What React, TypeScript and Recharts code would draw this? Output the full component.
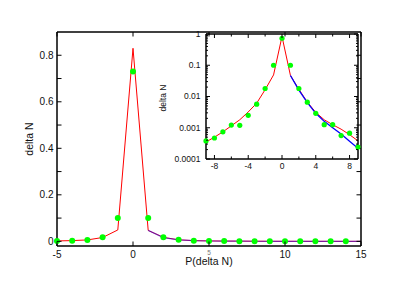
import React from 'react';
import { ComposedChart, Line, XAxis, YAxis, Label } from 'recharts';

// ---- data ----
const theoryX = [-9, -8, -7, -6, -5, -4, -3, -2, -1, 0, 1, 2, 3, 4, 5, 6, 7, 8, 9, 10, 11, 12, 13, 14, 15];
const theoryY = [0.00035, 0.0005, 0.00074, 0.00115, 0.0018, 0.0032, 0.0061, 0.0165, 0.049, 0.83, 0.047, 0.017, 0.0066, 0.0031, 0.0018, 0.00125, 0.0009, 0.0006, 0.00038, 0.0003, 0.00025, 0.0002, 0.00016, 0.00013, 0.0001];

const simX = [1, 2, 3, 4, 5, 6, 7, 8, 9, 10, 11, 12, 13, 14, 15];
const simY = [0.047, 0.016, 0.0064, 0.0029, 0.0016, 0.001, 0.00063, 0.00037, 0.00022, 0.00015, 0.0001, 0.00007, 0.00005, 0.00003, 0.00002];

const obsX = [-9, -8, -7, -6, -5, -4, -3, -2, -1, 0, 1, 2, 3, 4, 5, 6, 7, 8, 9, 10, 11, 12, 13, 14];
const obsY = [0.00038, 0.00047, 0.00074, 0.00122, 0.0012, 0.0025, 0.0057, 0.018, 0.1, 0.73, 0.1, 0.018, 0.0066, 0.0029, 0.00125, 0.00125, 0.00056, 0.00067, 0.00024, 0.0002, 0.00015, 0.0001, 0.0001, 0.0001];

const mainXTicks = [-5, 0, 5, 10, 15];
const mainYTicks = [0, 0.1, 0.2, 0.3, 0.4, 0.5, 0.6, 0.7, 0.8];
const mainYMajor = [0, 0.2, 0.4, 0.6, 0.8];
const insetXTicks = [-8, -6, -4, -2, 0, 2, 4, 6, 8];
const insetXMajor = [-8, -4, 0, 4, 8];
const insetYMajor = [0.0001, 0.001, 0.01, 0.1, 1];
const insetYMinor = [
  0.0002, 0.0003, 0.0004, 0.0005, 0.0006, 0.0007, 0.0008, 0.0009,
  0.002, 0.003, 0.004, 0.005, 0.006, 0.007, 0.008, 0.009,
  0.02, 0.03, 0.04, 0.05, 0.06, 0.07, 0.08, 0.09,
  0.2, 0.3, 0.4, 0.5, 0.6, 0.7, 0.8, 0.9,
];
const insetYTicks = [...insetYMajor, ...insetYMinor];

const toPts = (xs: number[], ys: number[]) => xs.map((x, i) => ({ x, y: ys[i] }));
const theory = toPts(theoryX, theoryY);
const sim = toPts(simX, simY);
const obs = toPts(obsX, obsY);

const FONT = '"Liberation Sans", Arial, Helvetica, sans-serif';

type Side = 'left' | 'right' | 'top' | 'bottom';
interface TickOpts {
  side: Side;
  majors: number[];
  len: number;
  minorLen: number;
  labels: boolean;
  margin: number;
  fontSize: number;
  small?: number[];
}

const near = (a: number, b: number) => Math.abs(a - b) < 1e-9 * Math.max(1, Math.abs(b));

const makeTick = (o: TickOpts) => (props: any) => {
  const { x, y, payload } = props;
  const v = payload.value as number;
  const major = o.majors.some((m) => near(m, v));
  const L = major ? o.len : o.minorLen;
  let x2 = x, y2 = y;
  if (o.side === 'left') x2 = x + L;
  if (o.side === 'right') x2 = x - L;
  if (o.side === 'bottom') y2 = y - L;
  if (o.side === 'top') y2 = y + L;
  let text = null;
  if (o.labels && major) {
    const isSmall = o.small ? o.small.some((s) => near(s, v)) : false;
    const fs = isSmall ? o.fontSize * 0.65 : o.fontSize;
    if (o.side === 'left') {
      text = (
        <text x={x - o.margin} y={y} dy="0.35em" textAnchor="end" fontSize={fs} fontFamily={FONT} fill="#111">
          {String(v)}
        </text>
      );
    } else if (o.side === 'bottom') {
      text = (
        <text x={x} y={y + o.margin} dy="0.71em" textAnchor="middle" fontSize={fs} fontFamily={FONT} fill={isSmall ? '#777' : '#111'}>
          {String(v)}
        </text>
      );
    }
  }
  return (
    <g>
      <line x1={x} y1={y} x2={x2} y2={y2} stroke="#000" strokeWidth={1} />
      {text}
    </g>
  );
};

const axisLine = { stroke: '#000', strokeWidth: 1.5 };

export default function App() {
  const mainTheory = theory.filter((p) => p.x >= -5);
  const mainObs = obs.filter((p) => p.x >= -5);
  const insetTheory = theory.filter((p) => p.x <= 9);
  const insetSim = sim.filter((p) => p.x <= 9);
  const insetObs = obs.filter((p) => p.x <= 9);

  return (
    <div style={{ position: 'absolute', left: 0, top: 0, width: 409, height: 289, background: '#fff' }}>
      <div style={{ position: 'absolute', left: 0, top: 0 }}>
        <ComposedChart width={409} height={289} margin={{ top: 31, right: 47, bottom: 0, left: 0 }}>
          <XAxis
            xAxisId="b"
            dataKey="x"
            type="number"
            domain={[-5, 15]}
            ticks={mainXTicks}
            interval={0}
            height={43}
            tickSize={0}
            tickMargin={0}
            tickLine={false}
            axisLine={axisLine}
            allowDataOverflow
            tick={makeTick({ side: 'bottom', majors: mainXTicks, len: 4.5, minorLen: 4.5, labels: true, margin: 4.5, fontSize: 10, small: [5] })}
          >
            <Label
              content={(p: any) => {
                const vb = p.viewBox;
                return (
                  <text x={vb.x + vb.width / 2} y={vb.y + 19} textAnchor="middle" fontSize={10.5} fontFamily={FONT} fill="#111">
                    P(delta N)
                  </text>
                );
              }}
            />
          </XAxis>
          <XAxis
            xAxisId="t"
            dataKey="x"
            type="number"
            orientation="top"
            domain={[-5, 15]}
            ticks={mainXTicks}
            interval={0}
            height={1}
            tickSize={0}
            tickMargin={0}
            tickLine={false}
            axisLine={axisLine}
            allowDataOverflow
            tick={makeTick({ side: 'top', majors: mainXTicks, len: 4.5, minorLen: 4.5, labels: false, margin: 0, fontSize: 10 })}
          />
          <YAxis
            yAxisId="l"
            dataKey="y"
            type="number"
            domain={[-0.02, 0.9]}
            ticks={mainYTicks}
            interval={0}
            width={57}
            tickSize={0}
            tickMargin={0}
            tickLine={false}
            axisLine={axisLine}
            allowDataOverflow
            tick={makeTick({ side: 'left', majors: mainYMajor, len: 4.5, minorLen: 4.5, labels: true, margin: 3.5, fontSize: 10 })}
          >
            <Label
              content={(p: any) => {
                const vb = p.viewBox;
                const cx = vb.x + 29;
                const cy = vb.y + vb.height / 2;
                return (
                  <text transform={`translate(${cx},${cy}) rotate(-90)`} textAnchor="middle" dominantBaseline="central" fontSize={10.5} fontFamily={FONT} fill="#111">
                    delta N
                  </text>
                );
              }}
            />
          </YAxis>
          <YAxis
            yAxisId="r"
            dataKey="y"
            orientation="right"
            type="number"
            domain={[-0.02, 0.9]}
            ticks={mainYTicks}
            interval={0}
            width={1}
            tickSize={0}
            tickMargin={0}
            tickLine={false}
            axisLine={axisLine}
            allowDataOverflow
            tick={makeTick({ side: 'right', majors: mainYMajor, len: 4.5, minorLen: 4.5, labels: false, margin: 0, fontSize: 10 })}
          />
          <Line data={mainTheory} xAxisId="t" yAxisId="r" dataKey="y" stroke="none" dot={false} activeDot={false} legendType="none" isAnimationActive={false} />
          <Line data={mainTheory} xAxisId="b" yAxisId="l" dataKey="y" type="linear" stroke="#ff0000" strokeWidth={1} dot={false} isAnimationActive={false} />
          <Line data={sim} xAxisId="b" yAxisId="l" dataKey="y" type="linear" stroke="#0000ff" strokeOpacity={0.5} strokeWidth={1.2} dot={false} isAnimationActive={false} />
          <Line
            data={mainObs}
            xAxisId="b"
            yAxisId="l"
            dataKey="y"
            stroke="none"
            dot={{ r: 3, fill: '#00ff00', stroke: 'none', clipDot: false }}
            activeDot={false}
            isAnimationActive={false}
          />
        </ComposedChart>
      </div>
      <div style={{ position: 'absolute', left: 150, top: 28 }}>
        <ComposedChart width={220} height={150} margin={{ top: 5, right: 11, bottom: 0, left: 0 }}>
          <XAxis
            xAxisId="b"
            dataKey="x"
            type="number"
            domain={[-9, 9]}
            ticks={insetXTicks}
            interval={0}
            height={19}
            tickSize={0}
            tickMargin={0}
            tickLine={false}
            axisLine={axisLine}
            allowDataOverflow
            tick={makeTick({ side: 'bottom', majors: insetXMajor, len: 4, minorLen: 2.5, labels: true, margin: 3.5, fontSize: 8.5 })}
          />
          <XAxis
            xAxisId="t"
            dataKey="x"
            type="number"
            orientation="top"
            domain={[-9, 9]}
            ticks={insetXTicks}
            interval={0}
            height={1}
            tickSize={0}
            tickMargin={0}
            tickLine={false}
            axisLine={axisLine}
            allowDataOverflow
            tick={makeTick({ side: 'top', majors: insetXMajor, len: 4, minorLen: 2.5, labels: false, margin: 0, fontSize: 8.5 })}
          />
          <YAxis
            yAxisId="l"
            dataKey="y"
            type="number"
            scale="log"
            domain={[0.0001, 1]}
            ticks={insetYTicks}
            interval={0}
            width={56}
            tickSize={0}
            tickMargin={0}
            tickLine={false}
            axisLine={axisLine}
            allowDataOverflow
            tick={makeTick({ side: 'left', majors: insetYMajor, len: 4, minorLen: 2, labels: true, margin: 5.5, fontSize: 8.5 })}
          >
            <Label
              content={(p: any) => {
                const vb = p.viewBox;
                const cx = vb.x + 13;
                const cy = vb.y + vb.height / 2 + 1.5;
                return (
                  <text transform={`translate(${cx},${cy}) rotate(-90)`} textAnchor="middle" dominantBaseline="central" fontSize={8.5} fontFamily={FONT} fill="#111">
                    delta N
                  </text>
                );
              }}
            />
          </YAxis>
          <YAxis
            yAxisId="r"
            dataKey="y"
            orientation="right"
            type="number"
            scale="log"
            domain={[0.0001, 1]}
            ticks={insetYTicks}
            interval={0}
            width={1}
            tickSize={0}
            tickMargin={0}
            tickLine={false}
            axisLine={axisLine}
            allowDataOverflow
            tick={makeTick({ side: 'right', majors: insetYMajor, len: 4, minorLen: 2, labels: false, margin: 0, fontSize: 8.5 })}
          />
          <Line data={insetTheory} xAxisId="t" yAxisId="r" dataKey="y" stroke="none" dot={false} activeDot={false} legendType="none" isAnimationActive={false} />
          <Line data={insetTheory} xAxisId="b" yAxisId="l" dataKey="y" type="linear" stroke="#ff0000" strokeWidth={1} dot={false} isAnimationActive={false} />
          <Line data={insetSim} xAxisId="b" yAxisId="l" dataKey="y" type="linear" stroke="#0000ff" strokeWidth={1.3} dot={false} isAnimationActive={false} />
          <Line
            data={insetObs}
            xAxisId="b"
            yAxisId="l"
            dataKey="y"
            stroke="none"
            dot={{ r: 2.6, fill: '#00ff00', stroke: 'none', clipDot: false }}
            activeDot={false}
            isAnimationActive={false}
          />
        </ComposedChart>
      </div>
    </div>
  );
}
